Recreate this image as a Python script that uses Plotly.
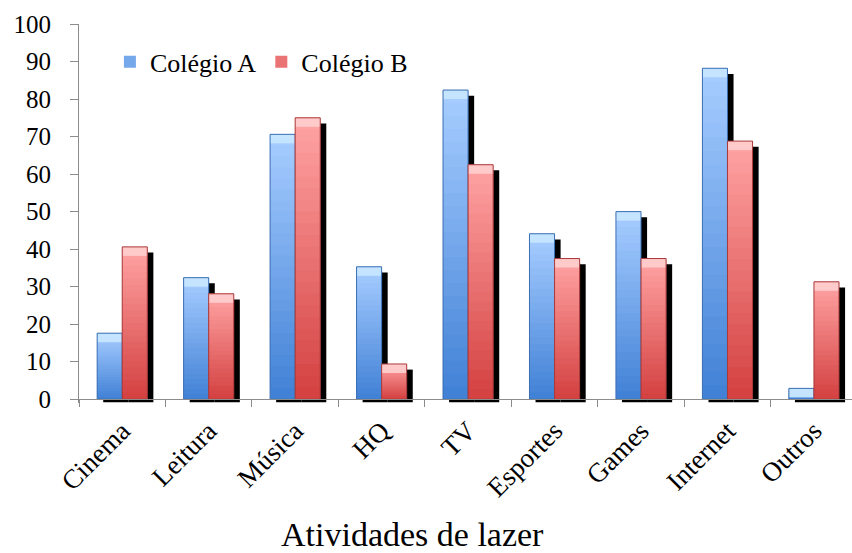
import plotly.graph_objects as go

categories = ["Cinema", "Leitura", "Música", "HQ", "TV", "Esportes", "Games", "Internet", "Outros"]
colegio_a = [17.6, 32.4, 70.6, 35.3, 82.4, 44.1, 50.0, 88.2, 2.9]
colegio_b = [40.6, 28.1, 75.0, 9.4, 62.5, 37.5, 37.5, 68.8, 31.3]
series_names = ["Colégio A", "Colégio B"]
y_ticks = [0, 10, 20, 30, 40, 50, 60, 70, 80, 90, 100]

FONT = "Liberation Serif"
N = 24
W = 0.29
SH_DX = 0.07
SH_BASE = -0.8
SH_DROP = 1.5
BAND = 2.4

styles = [
    dict(bottom=(0x42, 0x82, 0xD6), top=(0xA6, 0xCC, 0xFF), band="#C4E4FF", line="#3B6FB3", offset=-W),
    dict(bottom=(0xD4, 0x42, 0x42), top=(0xFF, 0xA2, 0xA2), band="#FFCACA", line="#A93A3A", offset=0.0),
]


def mix(c0, c1, t):
    return "rgb(%d,%d,%d)" % tuple(round(a + (b - a) * t) for a, b in zip(c0, c1))


fig = go.Figure()

# shadows
for vals, st in zip([colegio_a, colegio_b], styles):
    fig.add_trace(go.Bar(
        x=categories, y=[v - SH_DROP - SH_BASE for v in vals], base=[SH_BASE] * len(vals),
        offset=st["offset"] + SH_DX, width=W, marker=dict(color="black", line=dict(width=0)),
        showlegend=False, hoverinfo="skip"))

# gradient bodies
for si, (vals, st, name) in enumerate(zip([colegio_a, colegio_b], styles, series_names)):
    for k in range(N):
        t = k / (N - 1)
        fig.add_trace(go.Bar(
            x=categories, y=[v * min(2, N - k) / N for v in vals], base=[v * k / N for v in vals],
            offset=st["offset"], width=W,
            marker=dict(color=mix(st["bottom"], st["top"], t), line=dict(width=0)),
            name=name, showlegend=(k == N // 2), legendrank=si + 1, hoverinfo="skip"))
    # top bevel band
    fig.add_trace(go.Bar(
        x=categories, y=[min(BAND, v) for v in vals], base=[max(v - BAND, 0) for v in vals],
        offset=st["offset"], width=W, marker=dict(color=st["band"], line=dict(width=0)),
        showlegend=False, hoverinfo="skip"))
    # outline
    fig.add_trace(go.Bar(
        x=categories, y=vals, offset=st["offset"], width=W,
        marker=dict(color="rgba(0,0,0,0)", line=dict(width=1, color=st["line"])),
        showlegend=False, name=name))

fig.update_layout(
    barmode="overlay",
    width=852, height=553,
    margin=dict(l=79, r=0, t=24, b=150),
    paper_bgcolor="white", plot_bgcolor="white",
    font=dict(family=FONT, size=25, color="black"),
    legend=dict(orientation="h", x=0.040, y=0.90, xanchor="left", yanchor="middle",
                bgcolor="rgba(0,0,0,0)", font=dict(family=FONT, size=26),
                itemwidth=30, tracegroupgap=0),
    xaxis=dict(type="category", range=[-0.5, 8.44], anchor="free", position=3.75 / 379,
               automargin=False,
               showline=True, linecolor="#8C8C8C", linewidth=1,
               ticks="outside", tickson="boundaries", ticklen=7, tickcolor="#8C8C8C",
               tickangle=-45, tickfont=dict(family=FONT, size=27), showgrid=False,
               ticklabelstandoff=4),
    yaxis=dict(range=[-1, 100], tickvals=y_ticks, showline=True, linecolor="#8C8C8C", linewidth=1,
               automargin=False,
               ticks="outside", ticklen=8, tickcolor="#8C8C8C", showgrid=False, zeroline=False,
               tickfont=dict(family=FONT, size=25), ticklabelstandoff=14),
    annotations=[dict(text="Atividades de lazer", xref="paper", yref="paper",
                      x=0.432, y=-0.348, xanchor="center", yanchor="middle", showarrow=False,
                      font=dict(family=FONT, size=34))],
)

fig.write_html("out.html", config={"displayModeBar": False},
               post_script="document.body.style.margin='0';document.body.style.overflow='hidden';")
